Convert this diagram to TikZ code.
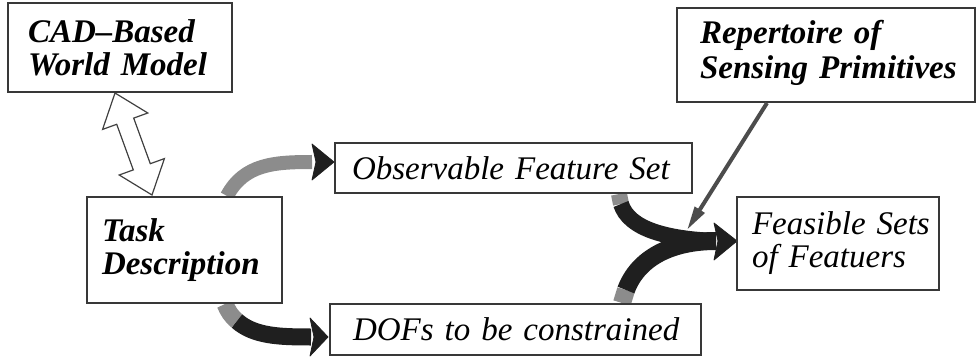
\documentclass[tikz,border=0pt]{standalone}
\usepackage{fontspec}
\setmainfont{Liberation Serif}
\usetikzlibrary{arrows.meta,calc,backgrounds}
\begin{document}
\begin{tikzpicture}[x=1pt,y=-1pt,
  box/.style={draw=black!78, line width=2pt, fill=white, align=left, inner ysep=0pt,
    font=\fontsize{33}{33}\selectfont\itshape},
  bbox/.style={box, font=\fontsize{33}{33}\selectfont\bfseries\itshape},
  greyshaft/.style={draw=black!45, line width=15pt},
  darkshaft/.style={draw=black!88, line width=15pt},
  headfill/.style={fill=black!88, draw=black!88, line width=0.8pt, line join=round},
  hollow/.style={draw=black!75, fill=white, line width=1.2pt, line join=miter}]
\useasboundingbox (0,0) rectangle (977,358);

\node[bbox, minimum width=224pt, minimum height=89pt, inner xsep=20pt, text width=184pt] (cad) at (120,47.5) {\mbox{CAD--Based}\\\mbox{World Model}};
\node[bbox, minimum width=195pt, minimum height=106pt, inner xsep=15pt, text width=165pt] (task) at (184.5,250) {Task\\Description};
\node[box, minimum width=357pt, minimum height=50pt, inner xsep=17pt, text width=323pt] (obs) at (513.5,168) {\mbox{Observable Feature Set}};
\node[box, minimum width=371pt, minimum height=51pt, inner xsep=23pt, text width=325pt] (dofs) at (515.5,329.5) {\mbox{DOFs to be constrained}};
\node[bbox, minimum width=298pt, minimum height=94pt, inner xsep=23pt, text width=252pt, text depth=47pt] (rep) at (826,55) {\mbox{Repertoire of}\\[2pt]\mbox{Sensing Primitives}};
\node[box, minimum width=202pt, minimum height=93pt, inner xsep=15pt, text width=172pt] (feas) at (838,243.5) {\mbox{Feasible Sets}\\\mbox{of Featuers}};

% named points
\coordinate (ta) at ($(task.north west)+(141,0)$);
\coordinate (tah) at ($(obs.west)+(-22,-6)$);
\coordinate (tat) at ($(obs.west)+(0,-6)$);
\coordinate (tb) at ($(task.south west)+(139,0)$);
\coordinate (tbm) at ($(task.south west)+(151,17)$);
\coordinate (tbh) at ($(dofs.west)+(-18,7.5)$);
\coordinate (tbt) at ($(dofs.west)+(-1,7.5)$);
\coordinate (oa) at ($(obs.south west)+(285,0)$);
\coordinate (oam) at ($(obs.south west)+(287,10)$);
\coordinate (da) at ($(dofs.north west)+(293,0)$);
\coordinate (dam) at ($(dofs.north west)+(297,-13)$);
\coordinate (fh) at ($(feas.west)+(-20,-2.5)$);
\coordinate (ft) at ($(feas.west)+(1,-2.5)$);
\coordinate (ra) at ($(rep.south west)+(91,0)$);
\coordinate (rt) at ($(feas.west)+(-49,-13.5)$);

\begin{scope}[on background layer]
  % hollow double arrow CAD <-> Task
  \draw[hollow] (115,93) -- (147.8,113.0) -- (133.7,118.1) -- (150.3,163.7) -- (164.4,158.6)
    -- (152,195) -- (119.2,175.0) -- (133.3,169.9) -- (116.7,124.3) -- (102.6,129.4) -- cycle;

  % Task -> Observable
  \draw[greyshaft, line width=14pt] (ta) .. controls ($(ta)+(17,-32)$) and ($(tah)+(-38,0)$) .. (tah);
  \fill[headfill] ($(tah)+(0,-18)$) -- (tat) -- ($(tah)+(0,18)$) -- ($(tah)+(4,0)$) -- cycle;

  % Task -> DOFs
  \draw[greyshaft, line width=17pt] (tb) .. controls ($(tb)+(3,7)$) and ($(tbm)+(-6,-5)$) .. (tbm);
  \draw[darkshaft, line width=17pt] (tbm) .. controls ($(tbm)+(17,15)$) and ($(tbh)+(-32,0)$) .. (tbh);
  \fill[headfill] ($(tbh)+(-1,-19)$) -- (tbt) -- ($(tbh)+(-1,19)$) -- ($(tbh)+(3,0)$) -- cycle;

  % merge into Feasible
  \draw[greyshaft, line width=16pt] (oa) -- (oam);
  \draw[darkshaft, line width=16pt] (oam) .. controls ($(oam)+(8,25)$) and ($(fh)+(-50,-2)$) .. (fh);
  \draw[greyshaft, line width=18pt] (da) -- (dam);
  \draw[darkshaft, line width=18pt] (dam) .. controls ($(dam)+(12,-32)$) and ($(fh)+(-45,0)$) .. (fh);
  \fill[headfill] ($(fh)+(-2,-18)$) -- (ft) -- ($(fh)+(-2,19)$) -- ($(fh)+(2,0)$) -- cycle;
\end{scope}

% Repertoire -> merge
\draw[draw=black!70, line width=4pt, -{Triangle[length=24pt,width=11pt,fill=black!70]}] (ra) -- (rt);
\end{tikzpicture}
\end{document}
